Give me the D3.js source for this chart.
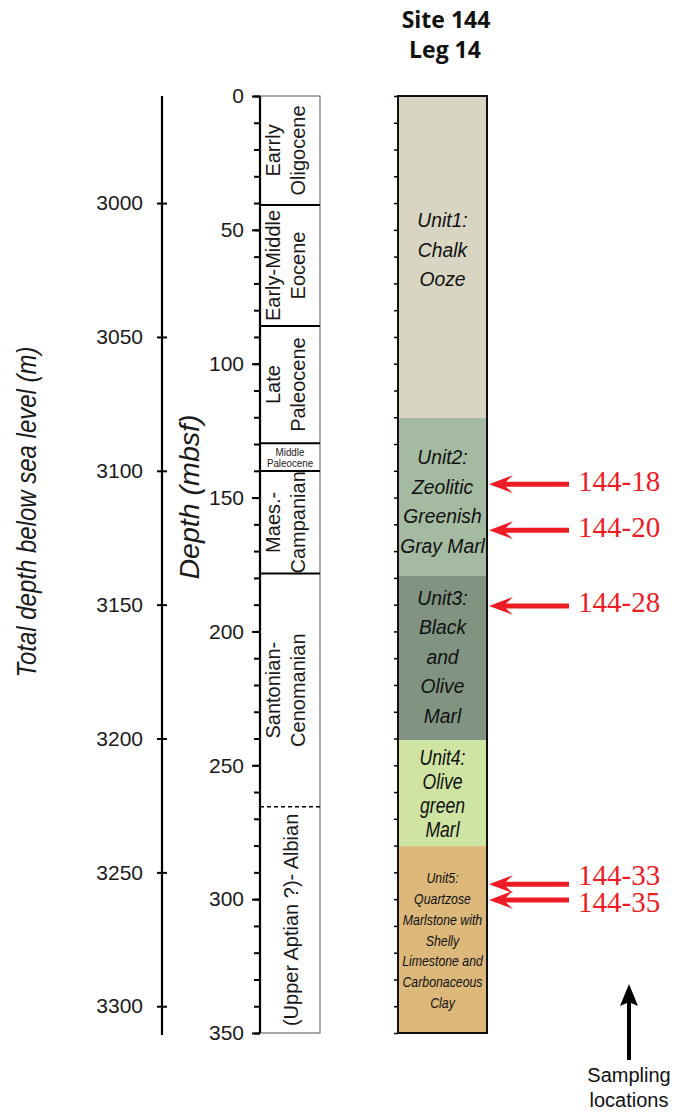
<!DOCTYPE html>
<html>
<head>
<meta charset="utf-8">
<script src="https://cdn.jsdelivr.net/npm/d3@7"></script>
<style>
  body { margin: 0; background: #fff; }
  svg { display: block; }
</style>
</head>
<body>
<div id="chart"></div>
<script>
// Site 144 / Leg 14 stratigraphic column

// depth scale ticks
const mbsfTicks = [0, 50, 100, 150, 200, 250, 300, 350];
const mbsfMinor = d3.range(0, 351, 10);
const totalTicks = [3000, 3050, 3100, 3150, 3200, 3250, 3300];
const waterTop = 2960;  // total depth at 0 mbsf

// chronostratigraphy
const epochNames = [
    ["Earrly", "Oligocene"],
    ["Early-Middle", "Eocene"],
    ["Late", "Paleocene"],
    ["Middle", "Paleocene"],
    ["Maes.-", "Campanian"],
    ["Santonian-", "Cenomanian"],
    ["(Upper Aptian ?)- Albian"]
];
const epochBounds = [0, 40.7, 85.9, 129.7, 140.1, 178.4, 265.5, 350];
const uncertainBounds = [265.5];

// lithologic units
const unitLines = [
    ["Unit1:", "Chalk", "Ooze"],
    ["Unit2:", "Zeolitic", "Greenish", "Gray Marl"],
    ["Unit3:", "Black", "and", "Olive", "Marl"],
    ["Unit4:", "Olive", "green", "Marl"],
    ["Unit5:", "Quartzose", "Marlstone with", "Shelly", "Limestone and", "Carbonaceous", "Clay"]
];
const unitBounds = [0, 120.3, 179.3, 240.6, 280.2, 350];
const unitColors = ["#d8d5c2", "#a4baa1", "#809481", "#cfe3a2", "#dcb87b"];

// samples
const sampleNames = ["144-18", "144-20", "144-28", "144-33", "144-35"];
const sampleDepths = [145, 162.2, 190.5, 294.4, 300.3];

// text sizes for the unit blocks (size, line step, horizontal squeeze, shift)
const unitTextStyle = [
    [21, 29.5, 0.92, -8], [21, 29.5, 0.92, 4], [21, 29.5, 0.92, -2], [22, 23.7, 0.8, 0], [14, 20.8, 0.88, 1]
];

const width = 676, height = 1113;
const sans = "'Liberation Sans', Arial, sans-serif";
const red = "#ed1c24";

const svg = d3.select("#chart")
    .append("svg")
    .attr("width", width)
    .attr("height", height);

const y = d3.scaleLinear().domain([0, 350]).range([96, 1033]);
const yTotal = d3.scaleLinear().domain([waterTop, waterTop + 350]).range([96, 1033]);

// ---- total depth axis
const leftX = 162;
svg.append("line")
    .attr("x1", leftX).attr("x2", leftX)
    .attr("y1", y(0)).attr("y2", 1035)
    .attr("stroke", "#000").attr("stroke-width", 2.2);

const gL = svg.append("g")
    .attr("transform", `translate(${leftX},0)`)
    .call(d3.axisLeft(yTotal).tickValues(totalTicks).tickSize(5).tickPadding(14).tickFormat(d3.format("d")));
gL.select(".domain").remove();
gL.selectAll(".tick line").attr("x1", 5).attr("x2", -5).attr("stroke-width", 2);
gL.selectAll(".tick text")
    .attr("font-family", sans).attr("font-size", 21).attr("fill", "#1a1a1a");

svg.append("text")
    .attr("transform", "translate(36,512) rotate(-90)")
    .attr("text-anchor", "middle")
    .attr("font-family", sans).attr("font-style", "italic")
    .attr("font-size", 28)
    .attr("textLength", 331).attr("lengthAdjust", "spacingAndGlyphs")
    .attr("fill", "#1a1a1a")
    .text("Total depth below sea level (m)");

// ---- mbsf axis / stratigraphic column
const colX = 260, colW = 60;

svg.append("rect")
    .attr("x", colX).attr("y", y(0))
    .attr("width", colW).attr("height", y(350) - y(0))
    .attr("fill", "#fff").attr("stroke", "#555").attr("stroke-width", 1);

const gMinor = svg.append("g")
    .attr("transform", `translate(${colX},0)`)
    .call(d3.axisLeft(y).tickValues(mbsfMinor).tickSize(6).tickFormat(""));
gMinor.select(".domain").remove();
gMinor.selectAll(".tick line").attr("stroke-width", 2);

const gM = svg.append("g")
    .attr("transform", `translate(${colX},0)`)
    .call(d3.axisLeft(y).tickValues(mbsfTicks).tickSize(8).tickPadding(8));
gM.select(".domain").remove();
gM.selectAll(".tick line").attr("stroke-width", 2);
gM.selectAll(".tick text")
    .attr("font-family", sans).attr("font-size", 21).attr("fill", "#1a1a1a");

svg.append("line")
    .attr("x1", colX).attr("x2", colX)
    .attr("y1", y(0)).attr("y2", y(350))
    .attr("stroke", "#000").attr("stroke-width", 2.2);

// epoch boundaries
svg.selectAll("line.epoch")
    .data(epochBounds.slice(1, -1))
    .enter()
    .append("line")
    .attr("class", "epoch")
    .attr("x1", colX).attr("x2", colX + colW)
    .attr("y1", d => y(d)).attr("y2", d => y(d))
    .attr("stroke", "#000")
    .attr("stroke-width", d => uncertainBounds.includes(d) ? 1.5 : 2)
    .attr("stroke-dasharray", d => uncertainBounds.includes(d) ? "4,3" : null);

// epoch labels
epochNames.forEach((lines, i) => {
    const top = y(epochBounds[i]), bot = y(epochBounds[i + 1]);
    const mid = (top + bot) / 2;
    const cx = colX + colW / 2;
    if (bot - top < 40) {
        // too thin: horizontal small text
        const t = svg.append("text")
            .attr("transform", `translate(${cx},${mid}) scale(0.85,1)`)
            .attr("text-anchor", "middle")
            .attr("font-family", sans).attr("font-size", 11.5)
            .attr("fill", "#1a1a1a");
        lines.forEach((s, k) => {
            t.append("tspan").attr("x", 0).attr("y", k === 0 ? -1.5 : 10).text(s);
        });
    } else {
        const xs = lines.length === 1 ? [298] : [280, 305];
        lines.forEach((s, k) => {
            svg.append("text")
                .attr("transform", `translate(${xs[k]},${mid}) rotate(-90)`)
                .attr("text-anchor", "middle")
                .attr("font-family", sans).attr("font-size", 20)
                .attr("fill", "#1a1a1a")
                .text(s);
        });
    }
});

svg.append("text")
    .attr("transform", "translate(199,497) rotate(-90)")
    .attr("text-anchor", "middle")
    .attr("font-family", sans).attr("font-style", "italic")
    .attr("font-size", 27)
    .attr("textLength", 165).attr("lengthAdjust", "spacingAndGlyphs")
    .attr("fill", "#1a1a1a")
    .text("Depth (mbsf)");

// ---- lithology column
const litX = 398, litW = 89, litCx = litX + litW / 2;

svg.selectAll("rect.unit")
    .data(unitColors)
    .enter()
    .append("rect")
    .attr("class", "unit")
    .attr("x", litX)
    .attr("y", (d, i) => y(unitBounds[i]))
    .attr("width", litW)
    .attr("height", (d, i) => y(unitBounds[i + 1]) - y(unitBounds[i]))
    .attr("fill", d => d);

svg.append("rect")
    .attr("x", litX).attr("y", y(0))
    .attr("width", litW).attr("height", y(350) - y(0))
    .attr("fill", "none").attr("stroke", "#111").attr("stroke-width", 2);

const gLit = svg.append("g")
    .attr("transform", `translate(${litX},0)`)
    .call(d3.axisLeft(y).tickValues(mbsfMinor).tickSize(4).tickFormat(""));
gLit.select(".domain").remove();
gLit.selectAll(".tick line").attr("stroke-width", 1.5);

unitLines.forEach((lines, i) => {
    const [fs, step, sx, shift] = unitTextStyle[i];
    const mid = (y(unitBounds[i]) + y(unitBounds[i + 1])) / 2 + shift;
    const first = mid - step * (lines.length - 1) / 2;
    lines.forEach((s, k) => {
        svg.append("text")
            .attr("transform", `translate(${litCx},${first + k * step + fs * 0.36}) scale(${sx},1)`)
            .attr("text-anchor", "middle")
            .attr("font-family", sans).attr("font-style", "italic")
            .attr("font-size", fs)
            .attr("fill", "#111")
            .text(s);
    });
});

// ---- title
svg.append("text")
    .attr("x", 446).attr("y", 28)
    .attr("text-anchor", "middle")
    .attr("font-family", "'Open Sans', " + sans).attr("font-weight", "bold")
    .attr("font-size", 23).attr("fill", "#111")
    .text("Site 144");
svg.append("text")
    .attr("x", 445).attr("y", 58)
    .attr("text-anchor", "middle")
    .attr("font-family", "'Open Sans', " + sans).attr("font-weight", "bold")
    .attr("font-size", 23).attr("fill", "#111")
    .text("Leg 14");

// ---- sample arrows
function leftArrow(tip, yy, tail) {
    return `M${tip},${yy} L${tip + 24},${yy - 9} L${tip + 17},${yy - 2.5} L${tail},${yy - 2.5}` +
        ` L${tail},${yy + 2.5} L${tip + 17},${yy + 2.5} L${tip + 24},${yy + 9} Z`;
}

svg.selectAll("path.sample")
    .data(sampleDepths)
    .enter()
    .append("path")
    .attr("class", "sample")
    .attr("d", d => leftArrow(489, y(d), 569))
    .attr("fill", red);

// label centres, pushed apart when two samples sit close together
const labelY = sampleDepths.map(d => y(d) - 3);
for (let i = 1; i < labelY.length; i++) {
    const gap = labelY[i] - labelY[i - 1];
    if (gap < 27) {
        const m = (labelY[i] + labelY[i - 1]) / 2;
        labelY[i - 1] = m - 13.5;
        labelY[i] = m + 13.5;
    }
}

svg.selectAll("text.sample")
    .data(sampleNames)
    .enter()
    .append("text")
    .attr("class", "sample")
    .attr("x", 578)
    .attr("y", (d, i) => labelY[i] + 9.5)
    .attr("font-family", "'Liberation Serif', 'Times New Roman', serif")
    .attr("font-size", 29)
    .attr("fill", red)
    .text(d => d);

// ---- sampling locations key
svg.append("path")
    .attr("d", "M629,984 L638,1006 L631,1003 L631,1060 L627,1060 L627,1003 L620,1006 Z")
    .attr("fill", "#000");
svg.append("text")
    .attr("x", 629).attr("y", 1082)
    .attr("text-anchor", "middle")
    .attr("font-family", sans).attr("font-size", 20).attr("fill", "#111")
    .text("Sampling");
svg.append("text")
    .attr("x", 629).attr("y", 1107)
    .attr("text-anchor", "middle")
    .attr("font-family", sans).attr("font-size", 20).attr("fill", "#111")
    .text("locations");
</script>
</body>
</html>
